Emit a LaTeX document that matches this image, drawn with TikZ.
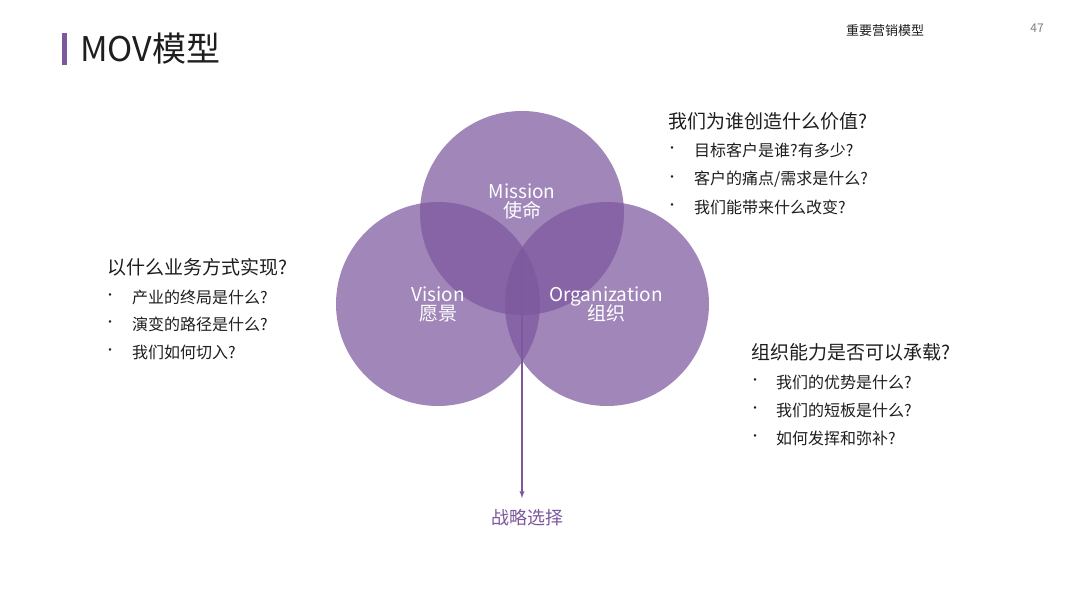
\documentclass[tikz,border=0pt]{standalone}
\usepackage{fontspec}
\setmainfont{Noto Sans CJK SC}
\definecolor{pur}{RGB}{124,88,158}
\definecolor{txt}{RGB}{30,30,30}
\begin{document}
\begin{tikzpicture}[x=1pt,y=-1pt,
  circ/.style={fill=pur,fill opacity=0.72,draw=none},
  lbl/.style={text=white,font=\fontsize{19}{22}\selectfont,align=center},
  hd/.style={anchor=west,text=txt,font=\fontsize{19}{22}\selectfont,inner sep=0},
  bl/.style={anchor=west,text=txt,font=\fontsize{16}{19}\selectfont,inner sep=0},
  dot/.style={anchor=center,text=txt,font=\fontsize{12}{14}\selectfont,inner sep=0}]
\useasboundingbox (0,0) rectangle (1080,608);
\fill[white] (0,0) rectangle (1080,608);
\fill[pur] (62,33) rectangle (67,65);
\node[anchor=west,inner sep=0,text=txt,font=\fontsize{34}{38}\selectfont] (title) at (80,49) {MOV模型};
\node[inner sep=0,text=txt,font=\fontsize{13}{15}\selectfont] (sec) at (885,31) {重要营销模型};
\node[inner sep=0,text=gray,font=\fontsize{12}{14}\selectfont] (pg) at (1037,28) {47};
\fill[circ] (522,213) circle (102);
\fill[circ] (438,304) circle (102);
\fill[circ] (607,304) circle (102);
\node[lbl] (m) at (522,201) {Mission\\[-3pt]使命};
\node[lbl] (v) at (438,304) {Vision\\[-3pt]愿景};
\node[lbl] (o) at (606,304) {Organization\\[-3pt]组织};
\coordinate (c) at (522,250);
\node[inner sep=0,text=pur,font=\fontsize{18}{21}\selectfont] (s) at (527,518) {战略选择};
\draw[pur,line width=1.3pt,-latex] (c) -- (522,498);
% right top
\node[hd] (h1) at (668,121) {我们为谁创造什么价值?};
\node[dot] at (672,150) {•}; \node[bl] (a1) at (694,150) {目标客户是谁?有多少?};
\node[dot] at (672,179) {•}; \node[bl] (a2) at (694,179) {客户的痛点/需求是什么?};
\node[dot] at (672,207) {•}; \node[bl] (a3) at (694,207) {我们能带来什么改变?};
% left
\node[hd] (h2) at (107,267) {以什么业务方式实现?};
\node[dot] at (110,297) {•}; \node[bl] (b1) at (132,297) {产业的终局是什么?};
\node[dot] at (110,324) {•}; \node[bl] (b2) at (132,324) {演变的路径是什么?};
\node[dot] at (110,352) {•}; \node[bl] (b3) at (132,352) {我们如何切入?};
% right bottom
\node[hd] (h3) at (751,352) {组织能力是否可以承载?};
\node[dot] at (755,382) {•}; \node[bl] (d1) at (776,382) {我们的优势是什么?};
\node[dot] at (755,410) {•}; \node[bl] (d2) at (776,410) {我们的短板是什么?};
\node[dot] at (755,438) {•}; \node[bl] (d3) at (776,438) {如何发挥和弥补?};
\end{tikzpicture}
\end{document}
